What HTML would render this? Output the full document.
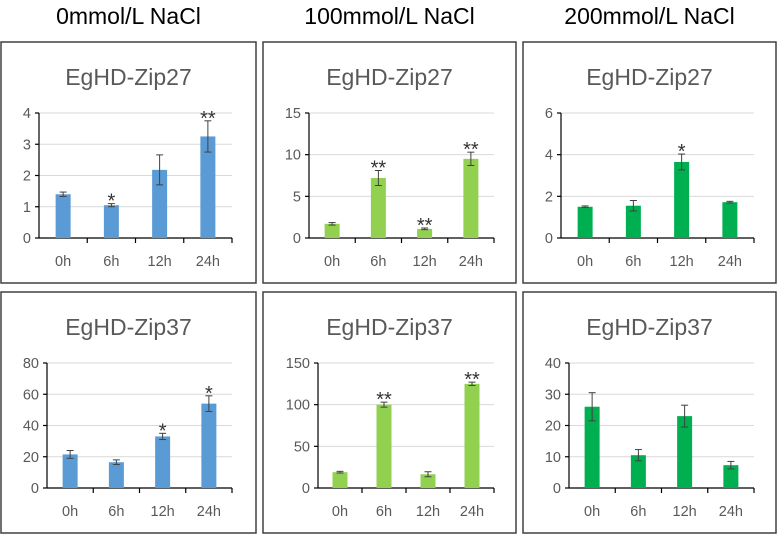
<!DOCTYPE html>
<html><head><meta charset="utf-8"><style>
body{margin:0;background:#fff;width:778px;height:535px;overflow:hidden;font-family:"Liberation Sans",sans-serif}
svg{display:block}
</style></head><body>
<svg id="c" width="778" height="535" xmlns="http://www.w3.org/2000/svg"></svg>
<script>
const headers = ["0mmol/L NaCl","100mmol/L NaCl","200mmol/L NaCl"];
const categories = ["0h","6h","12h","24h"];
const titles = ["EgHD-Zip27","EgHD-Zip27","EgHD-Zip27","EgHD-Zip37","EgHD-Zip37","EgHD-Zip37"];
const values0 = [1.4,1.05,2.18,3.25];
const values1 = [1.7,7.2,1.1,9.5];
const values2 = [1.5,1.55,3.65,1.72];
const values3 = [21.5,16.5,33,54];
const values4 = [19,100,16.5,125];
const values5 = [26,10.5,23,7.3];
const errors0 = [0.07,0.05,0.48,0.5];
const errors1 = [0.15,0.9,0.1,0.8];
const errors2 = [0.04,0.25,0.38,0.04];
const errors3 = [2.5,1.5,2,5];
const errors4 = [1,3,3,2];
const errors5 = [4.5,1.8,3.5,1.2];
const stars0 = ["","*","","**"];
const stars1 = ["","**","**","**"];
const stars2 = ["","","*",""];
const stars3 = ["","","*","*"];
const stars4 = ["","**","","**"];
const stars5 = ["","","",""];
const ticks0 = [0,1,2,3,4];
const ticks1 = [0,5,10,15];
const ticks2 = [0,2,4,6];
const ticks3 = [0,20,40,60,80];
const ticks4 = [0,50,100,150];
const ticks5 = [0,10,20,30,40];

const values=[values0,values1,values2,values3,values4,values5];
const errors=[errors0,errors1,errors2,errors3,errors4,errors5];
const stars=[stars0,stars1,stars2,stars3,stars4,stars5];
const ticks=[ticks0,ticks1,ticks2,ticks3,ticks4,ticks5];
const colors=["#5b9bd5","#92d050","#00b050"];
const colX=[1,263,523], colW=[255,253,253];
const rowY=[42,292], rowH=[241,241];
const svg=document.getElementById('c');
const NS="http://www.w3.org/2000/svg";
function mk(tag,attrs,parent){const e=document.createElementNS(NS,tag);for(const k in attrs)e.setAttribute(k,attrs[k]);(parent||svg).appendChild(e);return e;}

headers.forEach((h,i)=>{
  const t=mk('text',{x:colX[i]+colW[i]/2,y:24,'text-anchor':'middle','font-size':23,fill:'#000'});
  t.textContent=h;
  
  
});

for(let p=0;p<6;p++){
  const col=p%3,row=Math.floor(p/3);
  const bx=colX[col],by=rowY[row];
  const g=mk('g',{});
  
  
  mk('rect',{x:bx,y:by,width:colW[col],height:rowH[row],fill:'#fff',stroke:'#404040','stroke-width':1.5},g);
  const tt=mk('text',{x:bx+colW[col]/2,y:by+43,'text-anchor':'middle','font-size':23,fill:'#595959'},g);
  tt.textContent=titles[p];
  
  
  const tk=ticks[p];
  const maxT=tk[tk.length-1];
  const labW=String(maxT).length;
  const x0=bx+(labW===1?38:labW===2?46:55);
  const x1=bx+231;
  const yTop=by+71,yZero=by+196;
  const yS=v=>yZero-(v/maxT)*(yZero-yTop);
  tk.forEach(v=>{
    if(v>0){const gl=mk('line',{x1:x0,x2:x1,y1:yS(v),y2:yS(v),stroke:'#d9d9d9','stroke-width':1},g);
      }
    mk('line',{x1:x0-4,x2:x0,y1:yS(v),y2:yS(v),stroke:'#000','stroke-width':1.2},g);
    const l=mk('text',{x:x0-8,y:yS(v)+5,'text-anchor':'end','font-size':14.5,fill:'#595959'},g);
    l.textContent=v;
    
    
  });
  mk('line',{x1:x0,x2:x0,y1:yTop,y2:yZero,stroke:'#000','stroke-width':1.2},g);
  mk('line',{x1:x0,x2:x1,y1:yZero,y2:yZero,stroke:'#000','stroke-width':1.2},g);
  const slot=(x1-x0)/categories.length;
  for(let k=1;k<=categories.length;k++)mk('line',{x1:x0+k*slot,x2:x0+k*slot,y1:yZero,y2:yZero+5,stroke:'#000','stroke-width':1.2},g);
  categories.forEach((c,i)=>{
    const cx=x0+slot*(i+0.5);
    const v=values[p][i],e=errors[p][i];
    const b=mk('rect',{x:cx-7.5,y:yS(v),width:15,height:yZero-yS(v),fill:colors[col]},g);
    
    
    const yt=yS(v+e),yb=yS(v-e);
    mk('line',{x1:cx,x2:cx,y1:yt,y2:yb,stroke:'#404040','stroke-width':1},g);
    mk('line',{x1:cx-3.5,x2:cx+3.5,y1:yt,y2:yt,stroke:'#404040','stroke-width':1},g);
    mk('line',{x1:cx-3.5,x2:cx+3.5,y1:yb,y2:yb,stroke:'#404040','stroke-width':1},g);
    if(stars[p][i]){
      const s=mk('text',{x:cx,y:yt+4,'text-anchor':'middle','font-size':20,fill:'#333'},g);
      s.textContent=stars[p][i];
      
      
    }
    const xl=mk('text',{x:cx,y:yZero+28,'text-anchor':'middle','font-size':14.5,fill:'#595959'},g);
    xl.textContent=c;
    
    
  });
}
</script>
</body></html>
